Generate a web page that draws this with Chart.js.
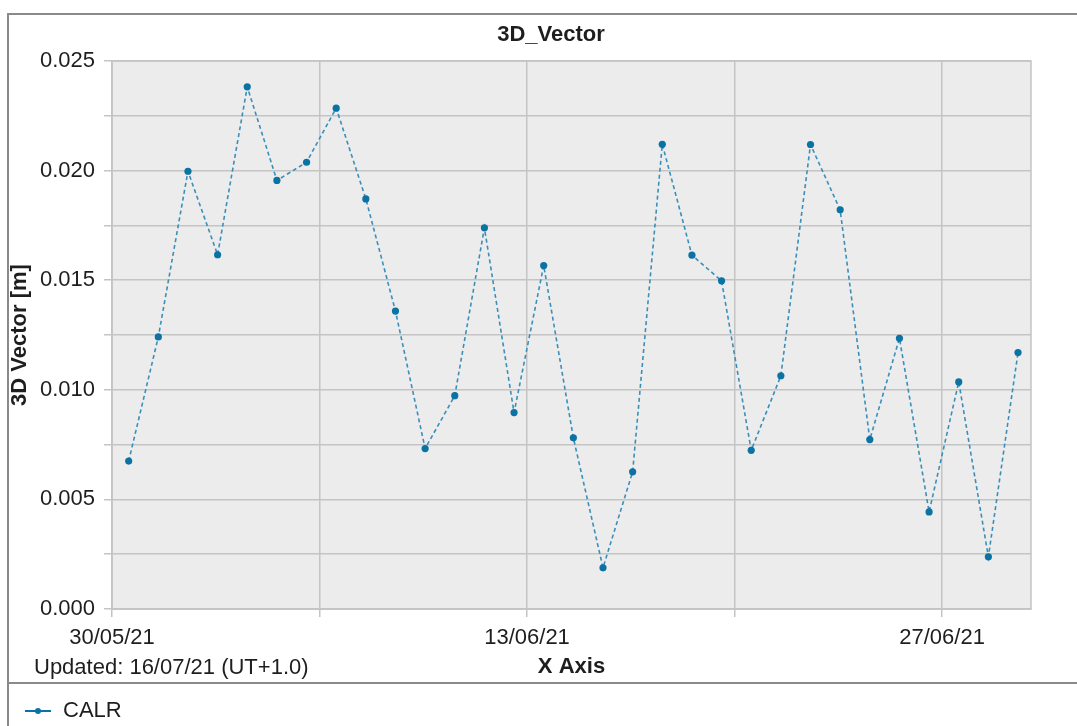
<!DOCTYPE html>
<html>
<head>
<meta charset="utf-8">
<script src="https://cdn.jsdelivr.net/npm/chart.js@4.4.1/dist/chart.umd.min.js"></script>
<style>
  html, body { margin: 0; background: #fff; }
  #wrap { position: relative; width: 1077px; height: 726px; }
</style>
</head>
<body>
<div id="wrap"><canvas id="chart"></canvas></div>
<script>
  // daily solutions, 3D vector in metres
  const dates = [
    '30/05/21', '31/05/21', '01/06/21', '02/06/21', '03/06/21', '04/06/21', '05/06/21', '06/06/21',
    '07/06/21', '08/06/21', '09/06/21', '10/06/21', '11/06/21', '12/06/21', '13/06/21', '14/06/21',
    '15/06/21', '16/06/21', '17/06/21', '18/06/21', '19/06/21', '20/06/21', '21/06/21', '22/06/21',
    '23/06/21', '24/06/21', '25/06/21', '26/06/21', '27/06/21', '28/06/21', '29/06/21'
  ];
  const calr = [
    0.00675, 0.01241, 0.01997, 0.01616, 0.02382, 0.01955, 0.02038, 0.02285,
    0.01871, 0.01359, 0.00732, 0.00973, 0.01739, 0.00896, 0.01567, 0.00781,
    0.00188, 0.00626, 0.02120, 0.01614, 0.01497, 0.00724, 0.01064, 0.02119,
    0.01821, 0.00773, 0.01235, 0.00443, 0.01036, 0.00238, 0.01170
  ];
  const epochHour = 13.5;            // solution epoch within each day
  const weekTicks = [0, 7, 14, 21, 28];  // days after 30/05/21
  const weekLabels = ['30/05/21', '', '13/06/21', '', '27/06/21'];

  const day0 = Date.UTC(2021, 4, 30);
  function dayNumber(s) {
    const [d, m, y] = s.split('/').map(Number);
    return (Date.UTC(2000 + y, m - 1, d) - day0) / 86400000 + epochHour / 24;
  }
  const points = dates.map((s, i) => ({ x: dayNumber(s), y: calr[i] }));

  const lineColor = '#3a8fba';
  const dotColor = '#0b73a3';
  const textColor = '#1e1e1e';
  const font = 'Liberation Sans, Arial, sans-serif';

  // legend marker: short line with a dot
  const marker = document.createElement('canvas');
  marker.width = 45; marker.height = 10;
  const mc = marker.getContext('2d');
  mc.strokeStyle = dotColor; mc.lineWidth = 2;
  mc.beginPath(); mc.moveTo(18, 5); mc.lineTo(44, 5); mc.stroke();
  mc.fillStyle = dotColor;
  mc.beginPath(); mc.arc(31, 5, 3, 0, Math.PI * 2); mc.fill();

  const frame = {
    id: 'frame',
    beforeDraw(chart) {
      const { ctx, chartArea: a } = chart;
      ctx.save();
      ctx.fillStyle = '#ececec';
      ctx.fillRect(a.left, a.top, a.right - a.left, a.bottom - a.top);
      ctx.restore();
    },
    afterDraw(chart) {
      const { ctx, chartArea: a } = chart;
      ctx.save();
      ctx.strokeStyle = '#c4c4c4';
      ctx.lineWidth = 1.5;
      ctx.strokeRect(a.left, a.top, a.right - a.left, a.bottom - a.top);
      ctx.strokeStyle = '#8a8a8a';
      ctx.lineWidth = 2;
      ctx.beginPath();
      ctx.moveTo(8, 726); ctx.lineTo(8, 14); ctx.lineTo(1077, 14);
      ctx.moveTo(8, 683); ctx.lineTo(1077, 683);
      ctx.stroke();
      ctx.fillStyle = textColor;
      ctx.textBaseline = 'middle';
      ctx.font = 'bold 22px ' + font;
      ctx.textAlign = 'center';
      ctx.fillText('3D_Vector', 551, 35);
      ctx.font = '22px ' + font;
      ctx.textAlign = 'left';
      ctx.fillText('Updated: 16/07/21 (UT+1.0)', 34, 668);
      ctx.restore();
    }
  };

  new Chart(document.getElementById('chart'), {
    type: 'line',
    data: {
      datasets: [{
        label: 'CALR',
        data: points,
        borderColor: lineColor,
        borderWidth: 1.6,
        borderDash: [4, 3],
        pointRadius: 3.6,
        pointBackgroundColor: dotColor,
        pointBorderWidth: 0,
        tension: 0
      }]
    },
    options: {
      responsive: true,
      maintainAspectRatio: false,
      animation: false,
      layout: { padding: { left: 7, top: 61, right: 46, bottom: -6 } },
      plugins: {
        title: { display: false },
        legend: {
          position: 'bottom',
          align: 'start',
          labels: {
            usePointStyle: true,
            pointStyleWidth: 45,
            padding: 0,
            color: textColor,
            font: { family: font, size: 22 },
            generateLabels(chart) {
              return Chart.defaults.plugins.legend.labels.generateLabels(chart)
                .map(l => Object.assign(l, { pointStyle: marker }));
            }
          }
        },
        tooltip: { enabled: false }
      },
      scales: {
        x: {
          type: 'linear',
          min: 0,
          max: 31,
          afterBuildTicks(axis) { axis.ticks = weekTicks.map(v => ({ value: v })); },
          afterFit(axis) { axis.height = 91; },
          ticks: {
            autoSkip: false,
            maxRotation: 0,
            padding: 8,
            color: textColor,
            font: { family: font, size: 22 },
            callback: (v, i) => weekLabels[i]
          },
          grid: { color: '#c4c4c4', lineWidth: 1.5, tickLength: 8 },
          border: { color: '#c4c4c4', width: 1.5 },
          title: {
            display: true,
            text: 'X Axis',
            color: textColor,
            font: { family: font, size: 22, weight: 'bold' },
            padding: { top: 0, bottom: 20 }
          }
        },
        y: {
          min: 0,
          max: 0.025,
          afterFit(axis) { axis.width = 105; },
          ticks: {
            stepSize: 0.0025,
            padding: 9,
            color: textColor,
            font: { family: font, size: 22 },
            callback: v => Math.round(v * 10000) % 50 === 0 ? v.toFixed(3) : ''
          },
          grid: { color: '#c4c4c4', lineWidth: 1.5, tickLength: 8 },
          border: { color: '#c4c4c4', width: 1.5 },
          title: {
            display: true,
            text: '3D Vector [m]',
            color: textColor,
            font: { family: font, size: 22, weight: 'bold' },
            padding: 0
          }
        }
      }
    },
    plugins: [frame]
  });
</script>
</body>
</html>
